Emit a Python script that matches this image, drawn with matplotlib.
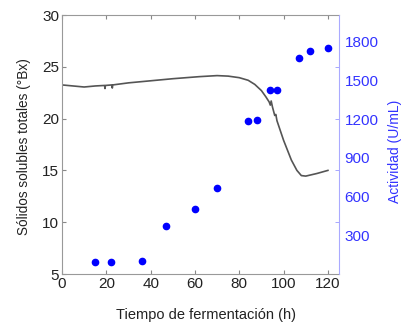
import matplotlib
matplotlib.use("Agg")
import matplotlib.pyplot as plt
import numpy as np

plt.rcParams['font.family'] = ['Liberation Sans', 'DejaVu Sans']

# Sólidos solubles totales (°Bx), curva continua
t_brix = [0, 5, 10, 15, 19.2, 19.4, 19.6, 22.5, 22.7, 22.9, 30, 40, 50, 62, 70, 75,
          80, 84, 87, 90, 92, 93.5, 94, 94.4, 95, 96, 96.5, 97, 100, 103.5, 106, 108,
          110, 115, 120]
brix = [23.25, 23.15, 23.05, 23.15, 23.2, 22.9, 23.2, 23.25, 22.95, 23.25, 23.45,
        23.65, 23.85, 24.05, 24.15, 24.1, 23.95, 23.7, 23.3, 22.7, 22.1, 21.6, 21.3,
        21.7, 21.1, 20.3, 20.4, 19.8, 17.9, 16.0, 15.0, 14.5, 14.45, 14.7, 15.0]

# Actividad (U/mL), puntos
t_act = [15, 22, 36, 47, 60, 70, 84, 88, 94, 97, 107, 112, 120]
act = [90, 95, 100, 372, 505, 666, 1187, 1194, 1430, 1424, 1677, 1726, 1755]

x_ticks = [0, 20, 40, 60, 80, 100, 120]
left_ticks = [5, 10, 15, 20, 25, 30]
right_ticks = [300, 600, 900, 1200, 1500, 1800]

fig = plt.figure(figsize=(4.06, 3.26), dpi=100)
ax = fig.add_axes([62/406, 52/326, 277/406, 259/326])
ax.plot(t_brix, brix, color='#555555', lw=1.2)
ax.set_xlim(0, 125)
ax.set_ylim(5, 30)
ax.set_xticks(x_ticks)
ax.set_yticks(left_ticks)
ax.tick_params(direction='in', length=3, colors='#888888', labelcolor='#222222',
               labelsize=11, top=True, pad=2)
for s in ['left', 'bottom', 'top']:
    ax.spines[s].set_color('#999999')
ax.spines['right'].set_visible(False)
ax.set_xlabel('Tiempo de fermentación (h)', fontsize=10.5, color='#222222',
              va='center', ha='center')
ax.xaxis.set_label_coords(0.52, -0.158)
ax.set_ylabel('Sólidos solubles totales (°Bx)', fontsize=9.8, color='#222222',
              va='center', ha='center')
ax.yaxis.set_label_coords(-0.137, 0.492)

ax2 = ax.twinx()
ax2.plot(t_act, act, 'o', color='blue', ms=4.5)
top = 2008
ax2.set_ylim(0, top)
ax2.set_yticks(right_ticks)
ax2.set_yticks([(v - 5) / 25 * top for v in left_ticks[1:-1]], minor=True)
ax2.tick_params(which='major', length=0, labelcolor='#3333ff', labelsize=11, pad=4)
ax2.tick_params(which='minor', direction='in', length=3, color='#9999ff')
for s in ['left', 'bottom', 'top']:
    ax2.spines[s].set_visible(False)
ax2.spines['right'].set_color('#aaaaff')
ax2.set_ylabel('Actividad (U/mL)', fontsize=10, color='#3333ff',
               va='center', ha='center')
ax2.yaxis.set_label_coords(1.202, 0.475)

fig.savefig('out.png', dpi=100)
